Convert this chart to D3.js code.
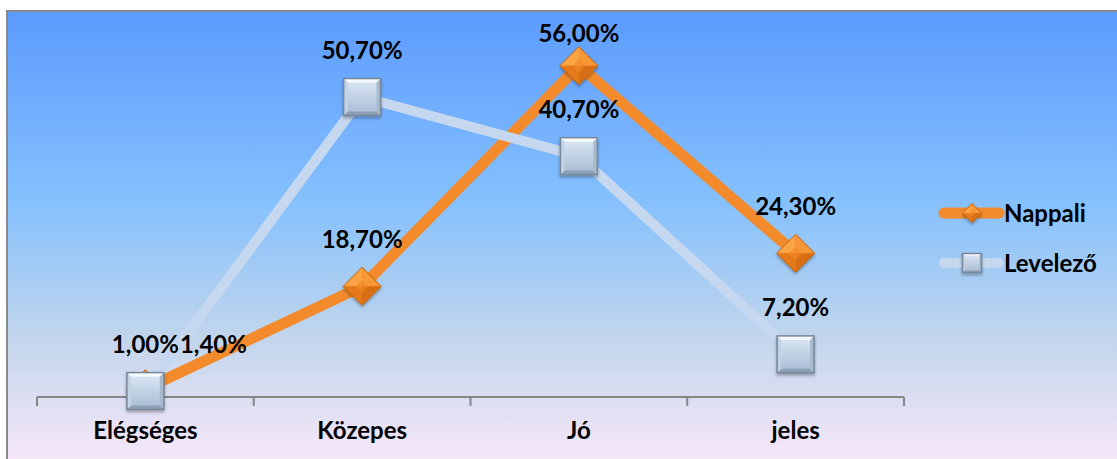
<!DOCTYPE html>
<html>
<head>
<meta charset="utf-8">
<script src="https://cdn.jsdelivr.net/npm/d3@7"></script>
<style>
  body { margin: 0; background: #ffffff; }
  text { font-family: Lato, "Open Sans", sans-serif; font-weight: bold; }
</style>
</head>
<body>
<div id="chart"></div>
<script>
// Chart data
var categories = ["Elégséges", "Közepes", "Jó", "jeles"];
var nappali = [1.4, 18.7, 56.0, 24.3];
var levelezo = [1.0, 50.7, 40.7, 7.2];
var seriesNames = ["Nappali", "Levelező"];

var svgWidth = 1117;
var svgHeight = 459;

var svg = d3.select("#chart")
  .append("svg")
  .attr("width", svgWidth)
  .attr("height", svgHeight);

var defs = svg.append("defs");

// Background gradient (blue to pink)
var bg = defs.append("linearGradient")
  .attr("id", "bg").attr("x1", 0).attr("y1", 0).attr("x2", 0).attr("y2", 1);
[["0%", "#5c9bff"], ["42%", "#86c1fd"], ["72%", "#c3d6ec"], ["100%", "#fbe8fa"]].forEach(function(s) {
  bg.append("stop").attr("offset", s[0]).attr("stop-color", s[1]);
});

var sq = defs.append("linearGradient")
  .attr("id", "sqFace").attr("x1", 0).attr("y1", 0).attr("x2", 0).attr("y2", 1);
sq.append("stop").attr("offset", "0%").attr("stop-color", "#dce8f5");
sq.append("stop").attr("offset", "100%").attr("stop-color", "#a6bbd2");

var shadow = defs.append("filter").attr("id", "shadow")
  .attr("x", "-30%").attr("y", "-30%").attr("width", "160%").attr("height", "160%");
shadow.append("feDropShadow").attr("dx", 0).attr("dy", 2).attr("stdDeviation", 1.5)
  .attr("flood-color", "#000").attr("flood-opacity", 0.3);

// Plot background and border
svg.append("rect")
  .attr("x", 7).attr("y", 11)
  .attr("width", svgWidth).attr("height", svgHeight)
  .attr("fill", "url(#bg)")
  .attr("stroke", "#8a8a8a")
  .attr("stroke-width", 2);

// Scales
var xScale = d3.scaleBand()
  .domain(categories)
  .range([37, 904])
  .padding(0);

var yScale = d3.scaleLinear()
  .domain([0, 60])
  .range([397, 42]);

function cx(d, i) { return xScale(categories[i]) + xScale.bandwidth() / 2; }

// Axis: baseline with boundary ticks, labels centered in bands
var axisG = svg.append("g").attr("transform", "translate(0, 397)");
var bottomAxis = d3.axisBottom(xScale).tickSize(0).tickPadding(25);
axisG.call(bottomAxis);
axisG.select(".domain").remove();
axisG.selectAll(".tick text")
  .attr("font-size", "24px")
  .attr("fill", "#000")
  .attr("font-family", "Lato, sans-serif")
  .attr("font-weight", "bold");

axisG.append("line")
  .attr("x1", xScale.range()[0]).attr("x2", xScale.range()[1])
  .attr("y1", 0).attr("y2", 0)
  .attr("stroke", "#868686").attr("stroke-width", 2);

var bounds = categories.map(function(c) { return xScale(c); }).concat([xScale.range()[1]]);
axisG.selectAll(".bound")
  .data(bounds)
  .enter()
  .append("line")
  .attr("x1", d => d).attr("x2", d => d)
  .attr("y1", 0).attr("y2", 9)
  .attr("stroke", "#868686").attr("stroke-width", 2);

// Marker drawers
function drawDiamond(g, x, y, r) {
  var m = g.append("g").attr("transform", "translate(" + x + "," + y + ")").attr("filter", "url(#shadow)");
  var k = r * 0.35;
  m.append("path").attr("d", "M0," + (-r) + "L" + r + ",0L0," + r + "L" + (-r) + ",0Z").attr("fill", "#e7801f");
  m.append("path").attr("d", "M0," + (-r) + "L" + (-r) + ",0L0,0Z").attr("fill", "#fba444");
  m.append("path").attr("d", "M0," + (-r) + "L" + r + ",0L0,0Z").attr("fill", "#f79736");
  m.append("path").attr("d", "M" + (-r) + ",0L0," + r + "L0,0Z").attr("fill", "#e5791b");
  m.append("path").attr("d", "M" + r + ",0L0," + r + "L0,0Z").attr("fill", "#d86e13");
  m.append("path").attr("d", "M0," + (-k) + "L" + k + ",0L0," + k + "L" + (-k) + ",0Z").attr("fill", "#f48b28").attr("opacity", 0.6);
  m.append("path").attr("d", "M0," + (-r) + "L" + r + ",0L0," + r + "L" + (-r) + ",0Z")
    .attr("fill", "none").attr("stroke", "#c7650f").attr("stroke-width", 1);
}

function drawSquare(g, x, y, h) {
  var m = g.append("g").attr("transform", "translate(" + x + "," + y + ")").attr("filter", "url(#shadow)");
  var b = h * 0.22;
  m.append("rect").attr("x", -h).attr("y", -h).attr("width", 2 * h).attr("height", 2 * h)
    .attr("fill", "url(#sqFace)");
  m.append("path").attr("d", "M" + (-h) + "," + (-h) + "L" + h + "," + (-h) + "L" + (h - b) + "," + (-h + b) + "L" + (-h + b) + "," + (-h + b) + "Z")
    .attr("fill", "#f7fafd");
  m.append("path").attr("d", "M" + (-h) + "," + h + "L" + h + "," + h + "L" + (h - b) + "," + (h - b) + "L" + (-h + b) + "," + (h - b) + "Z")
    .attr("fill", "#8d9fb4");
  m.append("path").attr("d", "M" + (-h) + "," + (-h) + "L" + (-h + b) + "," + (-h + b) + "L" + (-h + b) + "," + (h - b) + "L" + (-h) + "," + h + "Z")
    .attr("fill", "#c4d3e3");
  m.append("path").attr("d", "M" + h + "," + (-h) + "L" + (h - b) + "," + (-h + b) + "L" + (h - b) + "," + (h - b) + "L" + h + "," + h + "Z")
    .attr("fill", "#a8bacd");
  m.append("rect").attr("x", -h).attr("y", -h).attr("width", 2 * h).attr("height", 2 * h)
    .attr("fill", "none").attr("stroke", "#76879a").attr("stroke-width", 1.5);
}

var line = d3.line()
  .x(cx)
  .y(d => yScale(d));

var chartG = svg.append("g");

// Nappali (series 1)
chartG.append("path")
  .datum(nappali)
  .attr("d", line)
  .attr("fill", "none")
  .attr("stroke", "#f38a2c")
  .attr("stroke-width", 11)
  .attr("stroke-linejoin", "round")
  .attr("stroke-linecap", "round");
nappali.forEach(function(d, i) { drawDiamond(chartG, cx(d, i), yScale(d), 19); });

// Levelező (series 2)
chartG.append("path")
  .datum(levelezo)
  .attr("d", line)
  .attr("fill", "none")
  .attr("stroke", "#c6d8ef")
  .attr("stroke-width", 10)
  .attr("stroke-linejoin", "round")
  .attr("stroke-linecap", "round");
levelezo.forEach(function(d, i) { drawSquare(chartG, cx(d, i), yScale(d), 18.5); });

// Data labels
function fmt(v) { return v.toFixed(2).replace(".", ",") + "%"; }
function labelY(v) { return Math.max(yScale(v) - 38, 42); }

var labelG = svg.append("g");
var levBoxes = [];
levelezo.forEach(function(d, i) {
  var t = labelG.append("text")
    .attr("x", cx(d, i)).attr("y", labelY(d))
    .attr("text-anchor", "middle")
    .attr("font-size", "24px")
    .text(fmt(d));
  levBoxes.push(t.node().getBBox());
});
nappali.forEach(function(d, i) {
  var t = labelG.append("text")
    .attr("x", cx(d, i)).attr("y", labelY(d))
    .attr("text-anchor", "middle")
    .attr("font-size", "24px")
    .text(fmt(d));
  var b = t.node().getBBox();
  var o = levBoxes[i];
  // shift right if it collides with the other series' label
  if (b.x < o.x + o.width && b.x + b.width > o.x && b.y < o.y + o.height && b.y + b.height > o.y) {
    t.attr("text-anchor", "start")
      .attr("x", o.x + o.width + 1)
      .attr("y", labelY(levelezo[i]));
  }
});

// Legend
var legend = svg.append("g");
var legendRows = [
  { name: seriesNames[0], color: "#f38a2c", w: 11, y: 213 },
  { name: seriesNames[1], color: "#c6d8ef", w: 10, y: 263 }
];
legendRows.forEach(function(r, i) {
  legend.append("line")
    .attr("x1", 944).attr("x2", 999)
    .attr("y1", r.y).attr("y2", r.y)
    .attr("stroke", r.color).attr("stroke-width", r.w)
    .attr("stroke-linecap", "round");
  if (i === 0) drawDiamond(legend, 972, r.y, 9.5);
  else drawSquare(legend, 972, r.y, 9.5);
  legend.append("text")
    .attr("x", 1004).attr("y", r.y + 9)
    .attr("font-size", "24px")
    .text(r.name);
});
</script>
</body>
</html>
